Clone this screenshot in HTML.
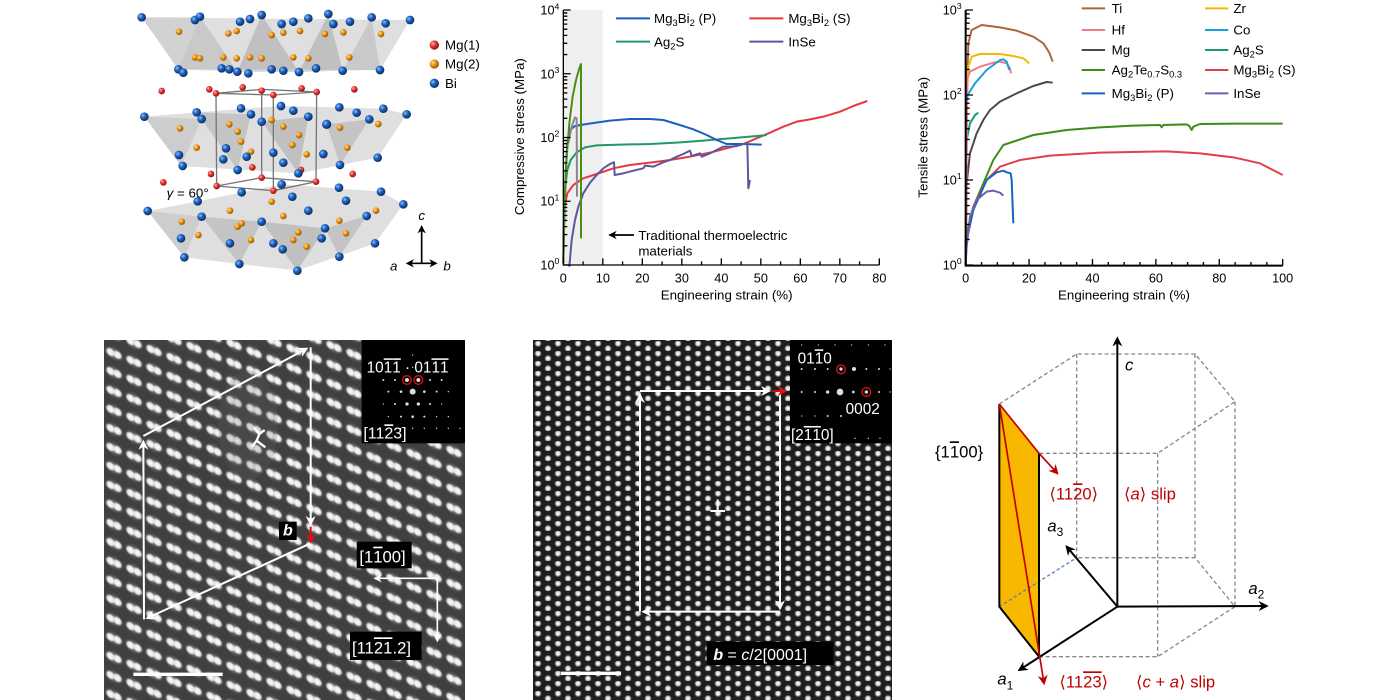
<!DOCTYPE html>
<html><head><meta charset="utf-8"><style>
html,body{margin:0;padding:0;background:#fff;}
svg{display:block;}
text{font-family:"Liberation Sans",sans-serif;}
</style></head><body>
<svg width="1400" height="700" viewBox="0 0 1400 700" xmlns="http://www.w3.org/2000/svg">
<defs>
<radialGradient id="gB" cx="35%" cy="35%" r="65%"><stop offset="0" stop-color="#8cc0f5"/><stop offset="0.45" stop-color="#1f63c0"/><stop offset="1" stop-color="#0a2f6a"/></radialGradient>
<radialGradient id="gO" cx="35%" cy="35%" r="65%"><stop offset="0" stop-color="#ffe0a0"/><stop offset="0.45" stop-color="#eb9a1c"/><stop offset="1" stop-color="#9a5a00"/></radialGradient>
<radialGradient id="gR" cx="35%" cy="35%" r="65%"><stop offset="0" stop-color="#ffb0b0"/><stop offset="0.45" stop-color="#e83a3a"/><stop offset="1" stop-color="#9a1010"/></radialGradient>
<radialGradient id="gW" cx="50%" cy="50%" r="50%"><stop offset="0" stop-color="#ffffff"/><stop offset="0.6" stop-color="#e6e6e6"/><stop offset="1" stop-color="#e6e6e6" stop-opacity="0"/></radialGradient>
<radialGradient id="gH" cx="50%" cy="50%" r="50%"><stop offset="0" stop-color="#9a9a9a"/><stop offset="1" stop-color="#9a9a9a" stop-opacity="0"/></radialGradient>
<radialGradient id="gW2" cx="50%" cy="50%" r="50%"><stop offset="0" stop-color="#ffffff"/><stop offset="0.5" stop-color="#dcdcdc"/><stop offset="1" stop-color="#dcdcdc" stop-opacity="0"/></radialGradient>
<pattern id="p1" patternUnits="userSpaceOnUse" width="20" height="19" patternTransform="translate(104,340) skewY(21.8)">
<ellipse cx="10" cy="9.5" rx="10" ry="7" fill="url(#gH)"/>
<ellipse cx="6.5" cy="9.5" rx="5" ry="4.6" fill="url(#gW)"/>
<ellipse cx="13.5" cy="9.5" rx="5" ry="4.6" fill="url(#gW)"/>
</pattern>
<pattern id="p2" patternUnits="userSpaceOnUse" width="20" height="10" patternTransform="translate(533,341)">
<circle cx="5" cy="2.5" r="3.7" fill="url(#gW2)"/>
<circle cx="15" cy="7.5" r="3.7" fill="url(#gW2)"/>
</pattern>
<marker id="mw" viewBox="0 0 10 10" refX="8" refY="5" markerWidth="5" markerHeight="5" orient="auto" markerUnits="strokeWidth"><path d="M0,0 L10,5 L0,10 L3,5z" fill="#fff"/></marker>
<marker id="mr" viewBox="0 0 10 10" refX="8" refY="5" markerWidth="5" markerHeight="5" orient="auto" markerUnits="strokeWidth"><path d="M0,0 L10,5 L0,10 L3,5z" fill="#e01010"/></marker>
<marker id="md" viewBox="0 0 10 10" refX="8" refY="5" markerWidth="6" markerHeight="6" orient="auto" markerUnits="strokeWidth"><path d="M0,0 L10,5 L0,10 L3,5z" fill="#c00000"/></marker>
<marker id="mk" viewBox="0 0 10 10" refX="8" refY="5" markerWidth="5" markerHeight="5" orient="auto" markerUnits="strokeWidth"><path d="M0,0 L10,5 L0,10 L3,5z" fill="#000"/></marker>
</defs>

<!-- ============ Crystal structure ============ -->
<g transform="translate(100,0) scale(0.33333)">
<polygon points="125,52 930,60 840,210 235,208" fill="#c4c4c4" opacity="0.55"/>
<polygon points="300,50 235,208 412,215" fill="#999" opacity="0.3"/>
<polygon points="485,45 412,215 597,216" fill="#888" opacity="0.35"/>
<polygon points="685,42 597,216 728,212" fill="#888" opacity="0.35"/>
<polygon points="815,52 728,212 840,210" fill="#999" opacity="0.3"/>
<polygon points="125,52 300,50 235,208" fill="#aaa" opacity="0.25"/>
<polygon points="133,350 290,337 543,318 850,326 920,343 833,473 595,520 243,498" fill="#c4c4c4" opacity="0.55"/>
<polygon points="290,337 453,343 413,510" fill="#888" opacity="0.3"/>
<polygon points="485,365 625,350 595,520" fill="#888" opacity="0.35"/>
<polygon points="680,373 808,358 720,495" fill="#888" opacity="0.3"/>
<polygon points="133,350 305,357 243,498" fill="#999" opacity="0.25"/>
<polygon points="143,633 293,604 545,553 843,575 910,613 825,730 592,812 418,792 253,772" fill="#c4c4c4" opacity="0.55"/>
<polygon points="305,650 485,665 418,792" fill="#888" opacity="0.3"/>
<polygon points="485,665 675,685 592,812" fill="#888" opacity="0.35"/>
<polygon points="675,685 800,648 718,770" fill="#888" opacity="0.3"/>
<polygon points="143,633 305,650 253,772" fill="#999" opacity="0.25"/>
<g stroke="#777" stroke-width="4" fill="none">
<polygon points="348,280 485,268 650,276 520,285"/>
<polygon points="350,558 485,533 648,545 520,572"/>
<line x1="348" y1="280" x2="350" y2="558"/><line x1="485" y1="268" x2="485" y2="533"/>
<line x1="650" y1="276" x2="648" y2="545"/><line x1="520" y1="285" x2="520" y2="572"/>
</g>
<g fill="url(#gO)">
<circle cx="237" cy="95" r="10"/><circle cx="385" cy="100" r="10"/><circle cx="410" cy="93" r="10"/><circle cx="515" cy="105" r="10"/><circle cx="550" cy="98" r="10"/><circle cx="600" cy="93" r="10"/><circle cx="675" cy="102" r="10"/><circle cx="730" cy="97" r="10"/><circle cx="843" cy="102" r="10"/>
<circle cx="285" cy="172" r="10"/><circle cx="300" cy="175" r="10"/><circle cx="370" cy="172" r="10"/><circle cx="410" cy="175" r="10"/><circle cx="450" cy="172" r="10"/><circle cx="485" cy="175" r="10"/><circle cx="580" cy="172" r="10"/><circle cx="625" cy="175" r="10"/><circle cx="748" cy="172" r="10"/>
<circle cx="240" cy="385" r="10"/><circle cx="290" cy="443" r="10"/><circle cx="388" cy="373" r="10"/><circle cx="413" cy="395" r="10"/><circle cx="453" cy="455" r="10"/><circle cx="515" cy="360" r="10"/><circle cx="550" cy="380" r="10"/><circle cx="597" cy="405" r="10"/><circle cx="720" cy="383" r="10"/><circle cx="742" cy="443" r="10"/><circle cx="835" cy="372" r="10"/><circle cx="620" cy="463" r="10"/><circle cx="577" cy="435" r="10"/><circle cx="423" cy="425" r="10"/>
<circle cx="245" cy="665" r="10"/><circle cx="295" cy="705" r="10"/><circle cx="390" cy="632" r="10"/><circle cx="413" cy="680" r="10"/><circle cx="453" cy="720" r="10"/><circle cx="515" cy="605" r="10"/><circle cx="550" cy="648" r="10"/><circle cx="580" cy="720" r="10"/><circle cx="595" cy="697" r="10"/><circle cx="620" cy="740" r="10"/><circle cx="718" cy="662" r="10"/><circle cx="738" cy="700" r="10"/><circle cx="828" cy="632" r="10"/><circle cx="425" cy="670" r="10"/>
</g>
<g fill="url(#gR)">
<circle cx="185" cy="273" r="10"/><circle cx="328" cy="268" r="10"/><circle cx="348" cy="280" r="10"/><circle cx="428" cy="262" r="10"/><circle cx="485" cy="272" r="10"/><circle cx="520" cy="285" r="10"/><circle cx="605" cy="265" r="10"/><circle cx="650" cy="276" r="10"/><circle cx="763" cy="268" r="10"/>
<circle cx="333" cy="522" r="10"/><circle cx="457" cy="502" r="10"/><circle cx="603" cy="510" r="10"/><circle cx="758" cy="522" r="10"/><circle cx="190" cy="547" r="10"/><circle cx="350" cy="558" r="10"/><circle cx="485" cy="533" r="10"/><circle cx="520" cy="572" r="10"/><circle cx="648" cy="545" r="10"/>
</g>
<g fill="url(#gB)">
<circle cx="125" cy="52" r="13"/><circle cx="285" cy="60" r="13"/><circle cx="300" cy="50" r="13"/><circle cx="420" cy="65" r="13"/><circle cx="450" cy="57" r="13"/><circle cx="485" cy="45" r="13"/><circle cx="545" cy="72" r="13"/><circle cx="580" cy="65" r="13"/><circle cx="625" cy="55" r="13"/><circle cx="685" cy="42" r="13"/><circle cx="700" cy="72" r="13"/><circle cx="750" cy="65" r="13"/><circle cx="815" cy="52" r="13"/><circle cx="857" cy="70" r="13"/><circle cx="930" cy="60" r="13"/>
<circle cx="235" cy="208" r="13"/><circle cx="250" cy="218" r="13"/><circle cx="365" cy="205" r="13"/><circle cx="388" cy="208" r="13"/><circle cx="412" cy="215" r="13"/><circle cx="445" cy="220" r="13"/><circle cx="515" cy="208" r="13"/><circle cx="550" cy="212" r="13"/><circle cx="597" cy="216" r="13"/><circle cx="648" cy="205" r="13"/><circle cx="728" cy="212" r="13"/><circle cx="840" cy="210" r="13"/>
<circle cx="133" cy="350" r="13"/><circle cx="290" cy="337" r="13"/><circle cx="305" cy="357" r="13"/><circle cx="423" cy="325" r="13"/><circle cx="453" cy="343" r="13"/><circle cx="485" cy="365" r="13"/><circle cx="543" cy="318" r="13"/><circle cx="580" cy="332" r="13"/><circle cx="625" cy="350" r="13"/><circle cx="680" cy="373" r="14"/><circle cx="718" cy="322" r="13"/><circle cx="770" cy="338" r="13"/><circle cx="808" cy="358" r="13"/><circle cx="850" cy="326" r="13"/><circle cx="920" cy="343" r="13"/>
<circle cx="237" cy="465" r="13"/><circle cx="248" cy="498" r="13"/><circle cx="370" cy="478" r="13"/><circle cx="413" cy="510" r="13"/><circle cx="440" cy="470" r="13"/><circle cx="520" cy="458" r="13"/><circle cx="550" cy="488" r="13"/><circle cx="595" cy="520" r="13"/><circle cx="670" cy="462" r="13"/><circle cx="720" cy="495" r="13"/><circle cx="833" cy="473" r="13"/><circle cx="378" cy="445" r="13"/>
<circle cx="293" cy="604" r="13"/><circle cx="425" cy="577" r="13"/><circle cx="545" cy="553" r="13"/><circle cx="577" cy="590" r="13"/><circle cx="625" cy="632" r="13"/><circle cx="717" cy="563" r="13"/><circle cx="738" cy="602" r="13"/><circle cx="800" cy="648" r="13"/><circle cx="843" cy="575" r="13"/><circle cx="910" cy="613" r="13"/><circle cx="143" cy="633" r="13"/><circle cx="305" cy="650" r="13"/><circle cx="485" cy="665" r="13"/><circle cx="675" cy="685" r="13"/>
<circle cx="243" cy="715" r="13"/><circle cx="253" cy="772" r="13"/><circle cx="390" cy="730" r="13"/><circle cx="418" cy="792" r="13"/><circle cx="520" cy="730" r="13"/><circle cx="548" cy="748" r="13"/><circle cx="592" cy="812" r="13"/><circle cx="665" cy="715" r="13"/><circle cx="718" cy="770" r="13"/><circle cx="825" cy="730" r="13"/>
</g>
<text x="200" y="592" font-size="40" fill="#000"><tspan font-style="italic">γ</tspan> = 60°</text>
<g stroke="#000" stroke-width="5" fill="none">
<line x1="965" y1="790" x2="965" y2="680" marker-end="url(#mk)"/>
<line x1="965" y1="790" x2="1008" y2="790" marker-end="url(#mk)"/>
<line x1="965" y1="790" x2="922" y2="790" marker-end="url(#mk)"/>
</g>
<text x="955" y="660" font-size="40" font-style="italic">c</text>
<text x="870" y="812" font-size="40" font-style="italic">a</text>
<text x="1030" y="812" font-size="40" font-style="italic">b</text>
<circle cx="1003" cy="135" r="14" fill="url(#gR)"/><text x="1035" y="149" font-size="40">Mg(1)</text>
<circle cx="1003" cy="192" r="14" fill="url(#gO)"/><text x="1035" y="206" font-size="40">Mg(2)</text>
<circle cx="1003" cy="250" r="14" fill="url(#gB)"/><text x="1035" y="264" font-size="40">Bi</text>
</g>

<!-- ============ Compressive chart ============ -->
<g transform="translate(510,0) scale(0.33333)">
<rect x="160" y="30" width="118" height="765" fill="#efefef"/>
<g fill="none" stroke-width="6" stroke-linejoin="round">
<path stroke="#e8383d" d="M160,790 L161,690 L164,620 L172,580 L190,555 L220,535 L260,522 L310,505 L360,495 L420,488 L480,480 L540,470 L600,458 L650,445 L700,432 L740,415 L780,398 L820,380 L860,365 L900,358 L940,350 L990,335 L1030,318 L1072,303"/>
<path stroke="#1f9a63" d="M160,790 L162,660 L166,560 L172,510 L182,480 L200,457 L225,442 L260,436 L330,434 L420,432 L500,428 L580,422 L650,416 L720,410 L770,405"/>
<path stroke="#1a5fc0" d="M160,790 L163,650 L167,520 L172,430 L180,390 L195,378 L230,372 L300,362 L360,357 L420,357 L460,360 L500,372 L550,388 L590,405 L620,420 L650,432 L700,432 L755,434"/>
<path stroke="#5e55a0" d="M178,800 L185,720 L195,660 L205,620 L220,580 L240,548 L260,525 L280,505 L300,492 L312,487 L314,525 L340,520 L370,512 L400,505 L405,497 L430,500 L460,487 L480,480 L500,470 L520,462 L540,452 L545,468 L570,460 L575,470 L600,460 L620,450 L640,440 L660,440 L680,438 L700,432 L712,430 L713,470 L715,565 L720,540"/>
<path stroke="#888" d="M175,430 L185,380 L195,352 L200,355 L201,590"/>
<path stroke="#4b8f12" d="M160,790 L164,600 L170,470 L178,370 L188,290 L198,240 L208,205 L213,192 L213,715"/>
</g>
<g stroke="#000" stroke-width="4" fill="none">
<path d="M160,30 V795 H1108"/>
<path d="M160,795h22M160,603.75h22M160,412.5h22M160,221.25h22M160,30h22"/>
<path d="M160,737.4h12M160,703.8h12M160,679.9h12M160,661.3h12M160,646.2h12M160,633.4h12M160,622.3h12M160,612.5h12M160,546.2h12M160,512.5h12M160,488.6h12M160,470.1h12M160,454.9h12M160,442.1h12M160,431h12M160,421.3h12M160,354.9h12M160,321.3h12M160,297.4h12M160,278.8h12M160,263.7h12M160,250.9h12M160,239.8h12M160,230h12M160,163.7h12M160,130h12M160,106.1h12M160,87.6h12M160,72.4h12M160,59.6h12M160,48.5h12M160,38.8h12"/>
<path d="M278.5,795v-20M397,795v-20M515.5,795v-20M634,795v-20M752.5,795v-20M871,795v-20M989.5,795v-20M1108,795v-20"/>
<path d="M219.25,795v-11M337.75,795v-11M456.25,795v-11M574.75,795v-11M693.25,795v-11M811.75,795v-11M930.25,795v-11M1048.75,795v-11"/>
</g>
<g font-size="38" text-anchor="end">
<text x="148" y="808">10<tspan font-size="26" dy="-16">0</tspan></text>
<text x="148" y="617">10<tspan font-size="26" dy="-16">1</tspan></text>
<text x="148" y="426">10<tspan font-size="26" dy="-16">2</tspan></text>
<text x="148" y="235">10<tspan font-size="26" dy="-16">3</tspan></text>
<text x="148" y="44">10<tspan font-size="26" dy="-16">4</tspan></text>
</g>
<g font-size="38" text-anchor="middle">
<text x="160" y="848">0</text><text x="278.5" y="848">10</text><text x="397" y="848">20</text><text x="515.5" y="848">30</text><text x="634" y="848">40</text><text x="752.5" y="848">50</text><text x="871" y="848">60</text><text x="989.5" y="848">70</text><text x="1108" y="848">80</text>
<text x="650" y="898" font-size="40">Engineering strain (%)</text>
<text transform="translate(42,410) rotate(-90)" font-size="40">Compressive stress (MPa)</text>
</g>
<line x1="372" y1="705" x2="300" y2="705" stroke="#000" stroke-width="5" marker-end="url(#mk)"/>
<text x="385" y="720" font-size="40">Traditional thermoelectric</text>
<text x="385" y="766" font-size="40">materials</text>
<g stroke-width="6">
<line x1="318" y1="55" x2="420" y2="55" stroke="#1a5fc0"/>
<line x1="718" y1="55" x2="820" y2="55" stroke="#e8383d"/>
<line x1="318" y1="125" x2="420" y2="125" stroke="#1f9a63"/>
<line x1="718" y1="125" x2="820" y2="125" stroke="#5e55a0"/>
</g>
<g font-size="40">
<text x="432" y="69">Mg<tspan font-size="28" dy="9">3</tspan><tspan dy="-9">Bi</tspan><tspan font-size="28" dy="9">2</tspan><tspan dy="-9"> (P)</tspan></text>
<text x="835" y="69">Mg<tspan font-size="28" dy="9">3</tspan><tspan dy="-9">Bi</tspan><tspan font-size="28" dy="9">2</tspan><tspan dy="-9"> (S)</tspan></text>
<text x="432" y="139">Ag<tspan font-size="28" dy="9">2</tspan><tspan dy="-9">S</tspan></text>
<text x="835" y="139">InSe</text>
</g>
</g>

<!-- ============ Tensile chart ============ -->
<g transform="translate(900,0) scale(0.33333)">
<g fill="none" stroke-width="6" stroke-linejoin="round">
<path stroke="#3d8c16" d="M197,795 L200,700 L220,620 L250,550 L280,480 L310,435 L400,405 L500,390 L600,382 L700,377 L780,375 L785,382 L790,375 L860,373 L868,378 L875,390 L880,380 L900,372 L1000,371 L1148,371"/>
<path stroke="#e04048" d="M197,795 L200,720 L220,620 L260,540 L300,500 L360,480 L450,467 L600,458 L800,454 L900,460 L1000,472 L1080,490 L1148,525"/>
<path stroke="#4a4a4a" d="M197,795 L200,550 L210,460 L230,400 L250,360 L270,330 L300,305 L350,280 L400,258 L440,246 L458,248"/>
<path stroke="#1a9a70" d="M197,795 L200,420 L210,370 L225,345 L235,338"/>
<path stroke="#b0643c" d="M197,790 L200,300 L205,130 L215,90 L245,75 L300,82 L350,92 L400,110 L430,130 L448,158 L458,185"/>
<path stroke="#f5b800" d="M197,790 L200,300 L205,200 L215,170 L240,162 L300,162 L340,168 L370,175 L388,190"/>
<path stroke="#f07a85" d="M197,790 L202,235 L210,215 L240,200 L280,188 L300,185 L320,190 L330,205 L333,220"/>
<path stroke="#1aa0d8" d="M200,300 L203,285 L225,250 L260,210 L300,180 L310,178 L320,185 L328,210"/>
<path stroke="#1565c0" d="M197,795 L200,720 L220,630 L260,540 L290,517 L310,512 L320,517 L332,520 L335,540 L338,620 L340,670"/>
<path stroke="#6a60a8" d="M197,795 L199,750 L210,650 L230,600 L260,575 L280,572 L300,578 L310,587"/>
</g>
<g stroke="#000" stroke-width="4" fill="none">
<path d="M197,30 V797 H1148" stroke-width="6"/>
<path d="M197,795h22M197,540h22M197,285h22M197,30h22"/>
<path d="M197,718.2h12M197,673.3h12M197,641.5h12M197,616.8h12M197,596.6h12M197,579.5h12M197,564.7h12M197,551.7h12M197,463.2h12M197,418.3h12M197,386.5h12M197,361.8h12M197,341.6h12M197,324.5h12M197,309.7h12M197,296.7h12M197,208.2h12M197,163.3h12M197,131.5h12M197,106.8h12M197,86.6h12M197,69.5h12M197,54.7h12M197,41.7h12"/>
<path d="M387.2,797v-20M577.4,797v-20M767.6,797v-20M957.8,797v-20M1148,797v-20"/>
<path d="M244.6,797v-11M292.1,797v-11M339.7,797v-11M434.8,797v-11M482.3,797v-11M529.9,797v-11M625,797v-11M672.5,797v-11M720.1,797v-11M815.2,797v-11M862.7,797v-11M910.3,797v-11M1005.4,797v-11M1052.9,797v-11M1100.5,797v-11"/>
</g>
<g font-size="38" text-anchor="end">
<text x="185" y="808">10<tspan font-size="26" dy="-16">0</tspan></text>
<text x="185" y="553">10<tspan font-size="26" dy="-16">1</tspan></text>
<text x="185" y="298">10<tspan font-size="26" dy="-16">2</tspan></text>
<text x="185" y="43">10<tspan font-size="26" dy="-16">3</tspan></text>
</g>
<g font-size="38" text-anchor="middle">
<text x="197" y="848">0</text><text x="387.2" y="848">20</text><text x="577.4" y="848">40</text><text x="767.6" y="848">60</text><text x="957.8" y="848">80</text><text x="1148" y="848">100</text>
<text x="672" y="898" font-size="40">Engineering strain (%)</text>
<text transform="translate(82,412) rotate(-90)" font-size="40">Tensile stress (MPa)</text>
</g>
<g stroke-width="6">
<line x1="545" y1="25" x2="615" y2="25" stroke="#b0643c"/>
<line x1="545" y1="90" x2="615" y2="90" stroke="#f07a85"/>
<line x1="545" y1="150" x2="615" y2="150" stroke="#4a4a4a"/>
<line x1="545" y1="210" x2="615" y2="210" stroke="#3d8c16"/>
<line x1="545" y1="280" x2="615" y2="280" stroke="#1565c0"/>
<line x1="915" y1="25" x2="985" y2="25" stroke="#f5b800"/>
<line x1="915" y1="90" x2="985" y2="90" stroke="#1aa0d8"/>
<line x1="915" y1="150" x2="985" y2="150" stroke="#1a9a70"/>
<line x1="915" y1="210" x2="985" y2="210" stroke="#e04048"/>
<line x1="915" y1="280" x2="985" y2="280" stroke="#6a60a8"/>
</g>
<g font-size="40">
<text x="635" y="39">Ti</text>
<text x="635" y="104">Hf</text>
<text x="635" y="164">Mg</text>
<text x="635" y="224">Ag<tspan font-size="28" dy="9">2</tspan><tspan dy="-9">Te</tspan><tspan font-size="28" dy="9">0.7</tspan><tspan dy="-9">S</tspan><tspan font-size="28" dy="9">0.3</tspan></text>
<text x="635" y="294">Mg<tspan font-size="28" dy="9">3</tspan><tspan dy="-9">Bi</tspan><tspan font-size="28" dy="9">2</tspan><tspan dy="-9"> (P)</tspan></text>
<text x="1000" y="39">Zr</text>
<text x="1000" y="104">Co</text>
<text x="1000" y="164">Ag<tspan font-size="28" dy="9">2</tspan><tspan dy="-9">S</tspan></text>
<text x="1000" y="224">Mg<tspan font-size="28" dy="9">3</tspan><tspan dy="-9">Bi</tspan><tspan font-size="28" dy="9">2</tspan><tspan dy="-9"> (S)</tspan></text>
<text x="1000" y="294">InSe</text>
</g>
</g>

<!-- ============ HRTEM left ============ -->
<rect x="104" y="340" width="361" height="360" fill="#404040"/>
<rect x="104" y="340" width="361" height="360" fill="url(#p1)"/>
<ellipse cx="248" cy="425" rx="30" ry="55" fill="#6a6a6a" opacity="0.2"/>
<g transform="translate(100,330) scale(0.33333)">
<g stroke="#fff" stroke-width="6" fill="none">
<path d="M132,868 L130,335" marker-end="url(#mw)"/>
<path d="M130,318 L620,56" marker-end="url(#mw)"/>
<path d="M632,52 L632,582" marker-end="url(#mw)"/>
<path d="M632,640 L142,864" marker-end="url(#mw)"/>
<path d="M1012,745 L825,745" stroke-width="5" marker-end="url(#mw)"/>
<path d="M1012,745 L1012,932" stroke-width="5" marker-end="url(#mw)"/>
<path d="M462,292 L478,312 L494,300 M478,312 L470,332 L456,350 M470,332 L496,352" stroke-width="7"/>
<line x1="100" y1="1033" x2="368" y2="1033" stroke-width="10"/>
</g>
<path d="M632,590 L632,636" stroke="#e01010" stroke-width="6" marker-end="url(#mr)"/>
<rect x="537" y="575" width="53" height="55" fill="#000"/>
<text x="549" y="617" font-size="48" font-weight="bold" font-style="italic" fill="#fff">b</text>
<rect x="770" y="635" width="165" height="80" fill="#000"/>
<text x="778" y="698" font-size="50" fill="#fff">[1<tspan style="text-decoration:overline">1</tspan>00]</text>
<rect x="750" y="905" width="215" height="85" fill="#000"/>
<text x="756" y="970" font-size="50" fill="#fff">[11<tspan style="text-decoration:overline">2</tspan><tspan style="text-decoration:overline">1</tspan>.2]</text>
<rect x="785" y="30" width="310" height="310" fill="#000"/>
<g fill="#ddd">
<circle cx="850" cy="150" r="3"/><circle cx="885" cy="150" r="3"/><circle cx="921" cy="150" r="6"/><circle cx="955" cy="150" r="6"/><circle cx="990" cy="150" r="3"/><circle cx="1025" cy="150" r="3"/>
<circle cx="865" cy="185" r="3"/><circle cx="903" cy="185" r="4"/><circle cx="938" cy="185" r="9"/><circle cx="973" cy="185" r="4"/><circle cx="1010" cy="185" r="3"/><circle cx="1045" cy="185" r="2"/>
<circle cx="850" cy="222" r="2"/><circle cx="885" cy="222" r="3"/><circle cx="921" cy="222" r="5"/><circle cx="955" cy="222" r="5"/><circle cx="990" cy="222" r="3"/><circle cx="1025" cy="222" r="2"/>
<circle cx="865" cy="260" r="2"/><circle cx="903" cy="260" r="3"/><circle cx="938" cy="260" r="4"/><circle cx="973" cy="260" r="3"/><circle cx="1010" cy="260" r="2"/><circle cx="1045" cy="260" r="2"/>
<circle cx="903" cy="295" r="2"/><circle cx="938" cy="295" r="2"/><circle cx="973" cy="295" r="2"/><circle cx="1010" cy="295" r="2"/><circle cx="1045" cy="295" r="2"/><circle cx="1080" cy="295" r="2"/>
<circle cx="938" cy="75" r="2"/><circle cx="865" cy="112" r="2"/><circle cx="938" cy="112" r="2"/>
</g>
<circle cx="921" cy="150" r="13" fill="none" stroke="#e01010" stroke-width="4"/>
<circle cx="955" cy="150" r="13" fill="none" stroke="#e01010" stroke-width="4"/>
<text x="800" y="127" font-size="46" fill="#fff">10<tspan style="text-decoration:overline">1</tspan><tspan style="text-decoration:overline">1</tspan> · 01<tspan style="text-decoration:overline">1</tspan><tspan style="text-decoration:overline">1</tspan></text>
<text x="790" y="325" font-size="48" fill="#fff">[11<tspan style="text-decoration:overline">2</tspan>3]</text>
</g>

<!-- ============ HRTEM middle ============ -->
<rect x="533" y="340" width="359" height="360" fill="#1e1e1e"/>
<rect x="533" y="340" width="359" height="360" fill="url(#p2)"/>
<g transform="translate(525,330) scale(0.33333)">
<g stroke="#fff" stroke-width="6" fill="none">
<path d="M345,845 L345,195" marker-end="url(#mw)"/>
<path d="M345,183 L732,183" marker-end="url(#mw)"/>
<path d="M765,183 L765,835" marker-end="url(#mw)"/>
<path d="M765,845 L355,845" marker-end="url(#mw)"/>
<line x1="108" y1="1030" x2="288" y2="1030" stroke-width="10"/>
<path d="M556,543 H600 M578,543 V508" stroke-width="6"/>
</g>
<path d="M740,183 L782,183" stroke="#c81010" stroke-width="6" marker-end="url(#mr)"/>
<rect x="545" y="935" width="380" height="70" fill="#000"/>
<text x="565" y="990" font-size="48" fill="#fff"><tspan font-weight="bold" font-style="italic">b</tspan> = <tspan font-style="italic">c</tspan>/2[0001]</text>
<rect x="795" y="30" width="305" height="310" fill="#000"/>
<g fill="#ddd">
<circle cx="830" cy="45" r="2"/><circle cx="880" cy="45" r="2"/><circle cx="930" cy="45" r="2"/><circle cx="980" cy="45" r="2"/><circle cx="1030" cy="45" r="2"/><circle cx="1080" cy="45" r="2"/>
<circle cx="830" cy="117" r="3"/><circle cx="870" cy="117" r="3"/><circle cx="908" cy="117" r="3"/><circle cx="948" cy="117" r="5"/><circle cx="987" cy="117" r="6"/><circle cx="1024" cy="117" r="3"/><circle cx="1062" cy="117" r="3"/><circle cx="1095" cy="117" r="2"/>
<circle cx="830" cy="186" r="3"/><circle cx="870" cy="186" r="3"/><circle cx="908" cy="186" r="5"/><circle cx="945" cy="186" r="10"/><circle cx="985" cy="186" r="4"/><circle cx="1024" cy="186" r="5"/><circle cx="1062" cy="186" r="3"/><circle cx="1095" cy="186" r="2"/>
<circle cx="830" cy="258" r="2"/><circle cx="870" cy="258" r="2"/><circle cx="908" cy="258" r="3"/><circle cx="948" cy="258" r="3"/>
<circle cx="990" cy="325" r="2"/><circle cx="1030" cy="325" r="2"/><circle cx="1065" cy="325" r="2"/>
</g>
<circle cx="948" cy="118" r="13" fill="none" stroke="#e01010" stroke-width="4"/>
<circle cx="1024" cy="186" r="13" fill="none" stroke="#e01010" stroke-width="4"/>
<text x="818" y="100" font-size="46" fill="#fff">01<tspan style="text-decoration:overline">1</tspan>0</text>
<text x="962" y="252" font-size="46" fill="#fff">0002</text>
<text x="798" y="330" font-size="46" fill="#fff">[2<tspan style="text-decoration:overline">1</tspan><tspan style="text-decoration:overline">1</tspan>0]</text>
</g>

<!-- ============ Hexagonal slip diagram ============ -->
<g transform="translate(920,330) scale(0.33333)">
<polygon points="238,222 357,370 357,980 238,830" fill="#f9b800"/>
<g stroke="#888" stroke-width="4" fill="none" stroke-dasharray="12,8">
<path d="M238,222 L470,72 L825,72 L945,215 L713,370 L357,370"/>
<path d="M357,980 L713,980 L945,830 L825,683 L470,683"/>
<path d="M470,72 V683 M825,72 V683 M945,215 V830 M713,370 V980"/>
</g>
<path d="M238,830 L470,683" stroke="#5580c0" stroke-width="4" stroke-dasharray="10,7" fill="none"/>
<g stroke="#000" stroke-width="6" fill="none">
<path d="M238,222 V830 L357,980 V370"/>
<path d="M592,832 L592,25" marker-end="url(#mk)"/>
<path d="M592,830 L1040,828" marker-end="url(#mk)"/>
<path d="M592,830 L440,650" marker-end="url(#mk)"/>
<path d="M592,830 L298,1020" marker-end="url(#mk)"/>
</g>
<g stroke="#c00000" stroke-width="5" fill="none">
<path d="M238,222 L357,370 L412,430" marker-end="url(#md)"/>
<path d="M238,222 L372,1060" marker-end="url(#md)"/>
</g>
<text x="615" y="122" font-size="50" font-style="italic">c</text>
<text x="985" y="792" font-size="50" font-style="italic">a<tspan font-size="36" font-style="normal" dy="14">2</tspan></text>
<text x="382" y="604" font-size="50" font-style="italic">a<tspan font-size="36" font-style="normal" dy="14">3</tspan></text>
<text x="232" y="1064" font-size="50" font-style="italic">a<tspan font-size="36" font-style="normal" dy="14">1</tspan></text>
<text x="45" y="382" font-size="50">{1<tspan style="text-decoration:overline">1</tspan>00}</text>
<g fill="#c00000" font-size="50">
<text x="388" y="508">⟨11<tspan style="text-decoration:overline">2</tspan>0⟩</text>
<text x="612" y="508">⟨<tspan font-style="italic">a</tspan>⟩ slip</text>
<text x="418" y="1072">⟨11<tspan style="text-decoration:overline">2</tspan><tspan style="text-decoration:overline">3</tspan>⟩</text>
<text x="648" y="1072">⟨<tspan font-style="italic">c</tspan> + <tspan font-style="italic">a</tspan>⟩ slip</text>
</g>
</g>
</svg>
</body></html>
